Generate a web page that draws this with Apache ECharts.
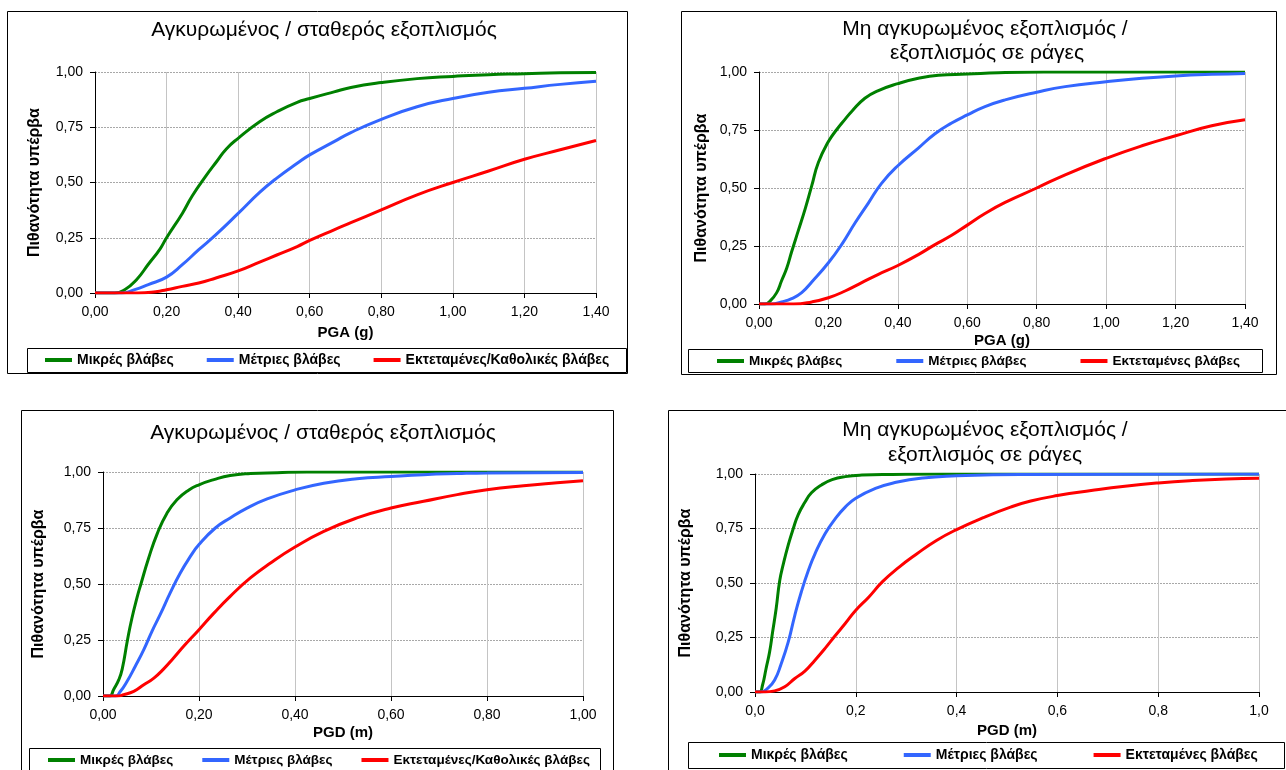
<!DOCTYPE html>
<html>
<head>
<meta charset="utf-8">
<script src="https://cdn.jsdelivr.net/npm/echarts@6/dist/echarts.min.js"></script>
<style>
html,body{margin:0;padding:0;background:#fff;}
#chart{width:1286px;height:770px;}
</style>
</head>
<body>
<div id="chart"></div>
<script>
// ---------- data ----------
const yTickLabels = ['0,00', '0,25', '0,50', '0,75', '1,00'];
const pgaTickLabels = ['0,00', '0,20', '0,40', '0,60', '0,80', '1,00', '1,20', '1,40'];
const pgdTickLabelsA = ['0,00', '0,20', '0,40', '0,60', '0,80', '1,00'];
const pgdTickLabelsB = ['0,0', '0,2', '0,4', '0,6', '0,8', '1,0'];

const titleAnchored = 'Αγκυρωμένος / σταθερός εξοπλισμός';
const titleUnanchored1 = 'Μη αγκυρωμένος εξοπλισμός /';
const titleUnanchored2 = 'εξοπλισμός σε ράγες';
const yName = 'Πιθανότητα υπέρβα';
const xNamePGA = 'PGA (g)';
const xNamePGD = 'PGD (m)';

const namesA = ['Μικρές βλάβες', 'Μέτριες βλάβες', 'Εκτεταμένες/Καθολικές βλάβες'];
const namesB = ['Μικρές βλάβες', 'Μέτριες βλάβες', 'Εκτεταμένες βλάβες'];

// Panel 1: anchored, PGA
const p1Minor = [[0,0],[0.055,0],[0.083,0.015],[0.116,0.06],[0.149,0.13],[0.182,0.2],[0.2,0.25],[0.244,0.36],[0.272,0.44],[0.31,0.53],[0.34,0.595],[0.367,0.652],[0.4,0.7],[0.46,0.775],[0.508,0.82],[0.565,0.863],[0.6,0.88],[0.668,0.91],[0.715,0.93],[0.8,0.952],[0.9,0.97],[1.0,0.98],[1.1,0.988],[1.2,0.992],[1.3,0.997],[1.4,0.998]];
const p1Moderate = [[0,0],[0.074,0],[0.111,0.015],[0.149,0.038],[0.2,0.072],[0.244,0.128],[0.29,0.196],[0.338,0.264],[0.4,0.36],[0.46,0.455],[0.508,0.52],[0.565,0.587],[0.6,0.625],[0.668,0.685],[0.715,0.726],[0.8,0.786],[0.9,0.843],[1.0,0.88],[1.1,0.908],[1.2,0.926],[1.3,0.944],[1.4,0.958]];
const p1Extensive = [[0,0],[0.12,0],[0.17,0.006],[0.2,0.015],[0.244,0.03],[0.29,0.045],[0.338,0.068],[0.4,0.1],[0.46,0.14],[0.508,0.172],[0.565,0.21],[0.6,0.238],[0.668,0.286],[0.715,0.318],[0.8,0.376],[0.9,0.444],[1.0,0.5],[1.1,0.552],[1.2,0.605],[1.3,0.648],[1.4,0.69]];

// Panel 2: unanchored, PGA
const p2Minor = [[0,0],[0.017,0],[0.032,0.013],[0.051,0.049],[0.065,0.1],[0.08,0.155],[0.094,0.225],[0.113,0.315],[0.133,0.41],[0.152,0.51],[0.171,0.61],[0.2,0.7],[0.223,0.75],[0.25,0.8],[0.267,0.83],[0.305,0.887],[0.344,0.92],[0.4,0.95],[0.459,0.973],[0.517,0.986],[0.6,0.991],[0.69,0.997],[0.82,1.0],[1.4,1.0]];
const p2Moderate = [[0,0],[0.036,0],[0.065,0.009],[0.094,0.023],[0.123,0.049],[0.152,0.095],[0.2,0.178],[0.238,0.256],[0.277,0.35],[0.315,0.435],[0.353,0.52],[0.4,0.596],[0.459,0.672],[0.507,0.734],[0.555,0.78],[0.6,0.815],[0.651,0.851],[0.709,0.88],[0.8,0.913],[0.882,0.937],[1.0,0.958],[1.103,0.973],[1.2,0.983],[1.304,0.99],[1.4,0.994]];
const p2Extensive = [[0,0],[0.1,0],[0.152,0.009],[0.2,0.027],[0.248,0.056],[0.296,0.092],[0.344,0.128],[0.4,0.166],[0.459,0.213],[0.507,0.256],[0.555,0.296],[0.6,0.34],[0.651,0.39],[0.709,0.438],[0.8,0.5],[0.882,0.557],[1.0,0.628],[1.103,0.682],[1.2,0.725],[1.304,0.768],[1.4,0.794]];

// Panel 3: anchored, PGD
const p3Minor = [[0,0],[0.014,0],[0.022,0.028],[0.033,0.073],[0.04,0.12],[0.051,0.25],[0.06,0.345],[0.071,0.44],[0.079,0.5],[0.095,0.615],[0.113,0.725],[0.133,0.815],[0.154,0.876],[0.179,0.92],[0.2,0.943],[0.231,0.966],[0.265,0.984],[0.307,0.993],[0.363,0.997],[0.425,1.0],[1.0,1.0]];
const p3Moderate = [[0,0],[0.026,0],[0.036,0.02],[0.05,0.065],[0.067,0.132],[0.085,0.207],[0.102,0.289],[0.119,0.363],[0.14,0.46],[0.161,0.549],[0.182,0.623],[0.2,0.676],[0.234,0.75],[0.265,0.795],[0.3,0.839],[0.342,0.88],[0.4,0.92],[0.46,0.95],[0.529,0.97],[0.6,0.98],[0.668,0.988],[0.738,0.993],[0.8,0.996],[1.0,0.998]];
const p3Extensive = [[0,0],[0.03,0],[0.043,0.006],[0.064,0.021],[0.085,0.05],[0.106,0.08],[0.126,0.12],[0.147,0.17],[0.168,0.222],[0.2,0.296],[0.231,0.37],[0.265,0.445],[0.307,0.527],[0.349,0.594],[0.4,0.665],[0.46,0.735],[0.529,0.795],[0.6,0.839],[0.668,0.869],[0.738,0.899],[0.8,0.921],[0.876,0.939],[0.946,0.952],[1.0,0.961]];

// Panel 4: unanchored, PGD
const p4Minor = [[0,0],[0.009,0],[0.015,0.032],[0.022,0.108],[0.029,0.184],[0.035,0.276],[0.042,0.383],[0.049,0.51],[0.056,0.585],[0.066,0.675],[0.076,0.75],[0.086,0.815],[0.099,0.87],[0.112,0.914],[0.132,0.95],[0.153,0.974],[0.179,0.988],[0.212,0.995],[0.273,0.998],[0.373,1.0],[1.0,1.0]];
const p4Moderate = [[0,0],[0.012,0],[0.025,0.017],[0.039,0.055],[0.052,0.13],[0.066,0.23],[0.079,0.352],[0.092,0.46],[0.106,0.558],[0.119,0.634],[0.139,0.726],[0.159,0.794],[0.179,0.848],[0.2,0.889],[0.239,0.934],[0.28,0.962],[0.333,0.982],[0.4,0.992],[0.474,0.997],[0.541,0.998],[1.0,1.0]];
const p4Extensive = [[0,0],[0.02,0],[0.039,0.005],[0.059,0.024],[0.079,0.062],[0.099,0.096],[0.119,0.146],[0.139,0.2],[0.159,0.258],[0.179,0.314],[0.2,0.375],[0.226,0.436],[0.253,0.506],[0.286,0.573],[0.32,0.632],[0.36,0.695],[0.4,0.745],[0.453,0.8],[0.507,0.848],[0.547,0.876],[0.6,0.901],[0.667,0.924],[0.734,0.944],[0.8,0.959],[0.868,0.97],[0.935,0.977],[1.0,0.98]];

// ---------- styling / layout ----------
const FONT = '"Liberation Sans", Arial, sans-serif';
const COLORS = ['#008000', '#3366FF', '#FF0000'];

const panels = [
  { grid: {left: 95, top: 72, width: 501, height: 221}, xMax: 1.4, xLabels: pgaTickLabels, xName: xNamePGA, xGap: 32, yGap: 52,
    names: namesA, data: [p1Minor, p1Moderate, p1Extensive] },
  { grid: {left: 759, top: 72, width: 486, height: 232}, xMax: 1.4, xLabels: pgaTickLabels, xName: xNamePGA, xGap: 29, yGap: 49,
    names: namesB, data: [p2Minor, p2Moderate, p2Extensive] },
  { grid: {left: 103, top: 472, width: 480, height: 224}, xMax: 1.0, xLabels: pgdTickLabelsA, xName: xNamePGD, xGap: 29, yGap: 56,
    names: namesA, data: [p3Minor, p3Moderate, p3Extensive] },
  { grid: {left: 755, top: 474, width: 504, height: 218}, xMax: 1.0, xLabels: pgdTickLabelsB, xName: xNamePGD, xGap: 31, yGap: 61,
    names: namesB, data: [p4Minor, p4Moderate, p4Extensive] }
];

const grids = [], xAxes = [], yAxes = [], series = [];
panels.forEach((p, i) => {
  grids.push(Object.assign({containLabel: false}, p.grid));
  xAxes.push({
    type: 'value', gridIndex: i, min: 0, max: p.xMax, interval: 0.2,
    name: p.xName, nameLocation: 'middle', nameGap: p.xGap,
    nameTextStyle: {fontFamily: FONT, fontSize: 15, fontWeight: 'bold', color: '#000'},
    axisLine: {show: true, onZero: false, lineStyle: {color: '#000', width: 1}},
    axisTick: {show: true, inside: false, length: 5, lineStyle: {color: '#000'}},
    axisLabel: {fontFamily: FONT, fontSize: 14, color: '#000', margin: 12,
      formatter: (v) => p.xLabels[Math.round(v / 0.2)]},
    splitLine: {show: true, lineStyle: {color: '#c4c4c4', width: 1}}
  });
  yAxes.push({
    type: 'value', gridIndex: i, min: 0, max: 1, interval: 0.25,
    name: yName, nameLocation: 'middle', nameGap: p.yGap, nameRotate: 90,
    nameTextStyle: {fontFamily: FONT, fontSize: 16, fontWeight: 'bold', color: '#000'},
    axisLine: {show: true, lineStyle: {color: '#000', width: 1}},
    axisTick: {show: true, inside: false, length: 5, lineStyle: {color: '#000'}},
    axisLabel: {fontFamily: FONT, fontSize: 14, color: '#000', margin: 12,
      formatter: (v) => yTickLabels[Math.round(v / 0.25)]},
    splitLine: {show: true, lineStyle: {color: '#a8a8a8', width: 1, type: [2, 1]}}
  });
  p.data.forEach((d, k) => {
    series.push({
      type: 'line', name: p.names[k], xAxisIndex: i, yAxisIndex: i,
      data: d, showSymbol: false, symbol: 'none',
      smooth: 0.5, clip: true,
      lineStyle: {color: COLORS[k], width: 3},
      itemStyle: {color: COLORS[k]}
    });
  });
});

const legendBase = {orient: 'horizontal', icon: 'rect', itemWidth: 27, itemHeight: 4,
  padding: 0, selectedMode: false};
function lt(size) { return {fontFamily: FONT, fontSize: size, fontWeight: 'bold', color: '#000'}; }
const legends = [
  Object.assign({}, legendBase, {left: 45, top: 353, itemGap: 33, data: namesA, textStyle: lt(14)}),
  Object.assign({}, legendBase, {left: 717, top: 354, itemGap: 54, data: namesB, textStyle: lt(13.5)}),
  Object.assign({}, legendBase, {left: 48, top: 753, itemGap: 29, data: namesA, textStyle: lt(13.5)}),
  Object.assign({}, legendBase, {left: 719, top: 748, itemGap: 56, data: namesB, textStyle: lt(14)})
];

function box(x, y, w, h) {
  return {type: 'rect', shape: {x: x, y: y, width: w, height: h},
    style: {fill: null, stroke: '#000', lineWidth: 1}, silent: true, z: 100};
}
function txt(s, x, y) {
  return {type: 'text', x: x, y: y, silent: true, z: 100,
    style: {text: s, fontFamily: FONT, fontSize: 21, fill: '#000', align: 'center', verticalAlign: 'middle'}};
}

const graphics = [
  box(7.5, 11.5, 620, 362),
  box(681.5, 11.5, 595, 363),
  box(21.5, 410.5, 592, 400),
  box(668.5, 410.5, 700, 400),
  box(27.5, 348.5, 599, 24),
  box(688.5, 349.5, 574, 23),
  box(29.5, 748.5, 571, 40),
  box(688.5, 742.5, 596, 26),
  txt(titleAnchored, 324, 30),
  txt(titleUnanchored1, 985, 29),
  txt(titleUnanchored2, 987, 53),
  txt(titleAnchored, 323, 433),
  txt(titleUnanchored1, 985, 430),
  txt(titleUnanchored2, 985, 455)
];

const chart = echarts.init(document.getElementById('chart'), null, {renderer: 'canvas'});
chart.setOption({
  animation: false,
  backgroundColor: '#fff',
  grid: grids,
  xAxis: xAxes,
  yAxis: yAxes,
  legend: legends,
  series: series,
  graphic: graphics
});
</script>
</body>
</html>
